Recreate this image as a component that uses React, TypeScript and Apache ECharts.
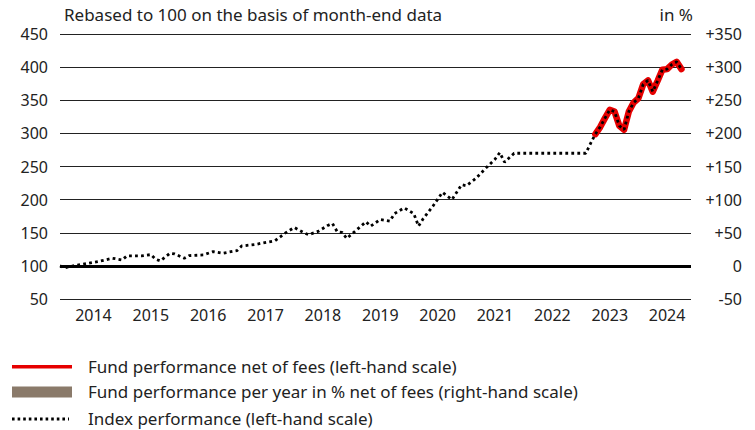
import React, { useEffect, useRef } from "react";
import * as echarts from "echarts";

const FONT = "Noto Sans";

// Monthly categories Dec 2013 .. Dec 2024
const months: string[] = ["2013-12"];
for (let y = 2014; y <= 2024; y++) {
  for (let m = 1; m <= 12; m++) months.push(`${y}-${m < 10 ? "0" + m : m}`);
}

const leftTicks = [50, 100, 150, 200, 250, 300, 350, 400, 450];
const rightTicks = [-50, 0, 50, 100, 150, 200, 250, 300, 350];

const indexMonths = [
  "2013-12", "2014-01", "2014-03", "2014-06", "2014-08", "2014-11",
  "2015-01", "2015-02", "2015-05", "2015-07", "2015-08", "2015-09", "2015-11", "2015-12",
  "2016-02", "2016-03", "2016-06", "2016-08", "2016-10",
  "2017-01", "2017-02", "2017-05", "2017-06", "2017-09", "2017-11",
  "2018-01", "2018-03", "2018-04", "2018-06", "2018-08", "2018-09", "2018-10", "2018-11", "2018-12",
  "2019-02", "2019-04", "2019-05", "2019-07", "2019-09", "2019-10", "2019-12",
  "2020-02", "2020-03", "2020-04", "2020-06", "2020-08", "2020-10", "2020-12",
  "2021-01", "2021-03", "2021-05", "2021-07", "2021-08", "2021-09", "2021-11",
  "2023-02", "2023-03", "2023-04", "2023-05", "2023-06", "2023-07", "2023-08", "2023-09",
  "2023-10", "2023-11", "2023-12", "2024-01", "2024-02", "2024-03", "2024-04", "2024-05",
  "2024-06", "2024-07", "2024-08", "2024-09", "2024-10",
];
const indexValues = [
  100, 97, 100.5, 104, 106.5, 111.5,
  109, 115, 115, 117, 110, 107.5, 119, 118,
  111.5, 115.5, 116.5, 121.5, 119,
  123, 130, 132.5, 134, 138, 149,
  158, 150, 147, 152, 161, 164, 151.5, 150.5, 141.5,
  154, 166.5, 160, 170, 167.5, 179, 187.5,
  179, 160, 171.5, 190, 211, 200, 222.5,
  221, 232, 247, 261, 271, 256.5, 270,
  270, 285, 299, 309.5, 323, 335.5, 333, 311.5,
  305.5, 333, 346.5, 353, 374, 380, 363, 379,
  396, 397, 404, 408, 397,
];

const fundMonths = [
  "2023-04", "2023-05", "2023-06", "2023-07", "2023-08", "2023-09",
  "2023-10", "2023-11", "2023-12", "2024-01", "2024-02", "2024-03", "2024-04", "2024-05",
  "2024-06", "2024-07", "2024-08", "2024-09", "2024-10",
];
const fundValues = [
  299, 309.5, 323, 335.5, 333, 311.5,
  305.5, 333, 346.5, 353, 374, 380, 363, 379,
  396, 397, 404, 408, 397,
];

const legendLabels = [
  "Fund performance net of fees (left-hand scale)",
  "Fund performance per year in % net of fees (right-hand scale)",
  "Index performance (left-hand scale)",
];
const titleText = "Rebased to 100 on the basis of month-end data";
const unitText = "in %";

export default function App() {
  const ref = useRef<HTMLDivElement>(null);
  useEffect(() => {
    if (!ref.current) return;
    const chart = echarts.init(ref.current, undefined, { renderer: "svg" });
    const legendText = (text: string, y: number) => ({
      type: "text",
      x: 88,
      y,
      style: { text, fontSize: 17, fill: "#222", fontFamily: FONT, verticalAlign: "middle" },
    });
    const option: any = {
      animation: false,
      textStyle: { fontFamily: FONT },
      grid: { left: 60, right: 64, top: 34, bottom: 131, containLabel: false },
      xAxis: {
        type: "category",
        data: months,
        boundaryGap: false,
        axisLine: { show: false },
        axisTick: { show: false },
        splitLine: { show: false },
        axisLabel: {
          interval: (_i: number, v: string) => v.endsWith("-07"),
          formatter: (v: string) => v.slice(0, 4),
          fontSize: 16,
          color: "#222",
          fontFamily: FONT,
          margin: 8,
        },
      },
      yAxis: [
        {
          type: "value",
          min: leftTicks[0],
          max: leftTicks[leftTicks.length - 1],
          interval: 50,
          position: "left",
          axisLine: { show: false },
          axisTick: { show: false },
          splitLine: { show: true, lineStyle: { color: "#222", width: 1 } },
          axisLabel: { fontSize: 16, color: "#222", margin: 12, fontFamily: FONT },
        },
        {
          type: "value",
          min: rightTicks[0],
          max: rightTicks[rightTicks.length - 1],
          interval: 50,
          position: "right",
          axisLine: { show: false },
          axisTick: { show: false },
          splitLine: { show: false },
          axisLabel: {
            fontSize: 16,
            color: "#222",
            align: "right",
            margin: 51,
            fontFamily: FONT,
            formatter: (v: number) => (v > 0 ? "+" + v : String(v)),
          },
        },
      ],
      series: [
        {
          type: "line",
          name: legendLabels[0],
          yAxisIndex: 0,
          data: fundMonths.map((m, i) => [m, fundValues[i]]),
          showSymbol: false,
          symbol: "none",
          lineStyle: { color: "#e60000", width: 6.5, cap: "round", join: "round" },
          z: 3,
        },
        {
          type: "line",
          name: legendLabels[2],
          yAxisIndex: 0,
          data: indexMonths.map((m, i) => [m, indexValues[i]]),
          showSymbol: false,
          symbol: "none",
          lineStyle: { color: "#000", width: 2.8, type: [2.8, 3.2], cap: "butt" },
          z: 4,
          markLine: {
            silent: true,
            symbol: "none",
            label: { show: false },
            lineStyle: { color: "#000", width: 3, type: "solid" },
            data: [{ yAxis: 100 }],
            z: 2,
          },
        },
      ],
      graphic: [
        {
          type: "text",
          left: 64,
          top: 6,
          style: { text: titleText, fontSize: 17, fill: "#222", fontFamily: FONT },
        },
        {
          type: "text",
          right: 62,
          top: 6,
          style: { text: unitText, fontSize: 17, fill: "#222", fontFamily: FONT },
        },
        { type: "rect", shape: { x: 12, y: 365, width: 60, height: 3.5 }, style: { fill: "#e60000" } },
        { type: "rect", shape: { x: 12, y: 386.5, width: 60, height: 11 }, style: { fill: "#8a7a6a" } },
        {
          type: "line",
          shape: { x1: 12, y1: 419, x2: 69, y2: 419 },
          style: { stroke: "#000", lineWidth: 3, lineDash: [2.6, 3] },
        },
        legendText(legendLabels[0], 366),
        legendText(legendLabels[1], 391.5),
        legendText(legendLabels[2], 418),
      ],
    };
    chart.setOption(option);
    return () => chart.dispose();
  }, []);
  return (
    <div
      ref={ref}
      style={{ position: "fixed", left: 0, top: 0, width: 755, height: 430, background: "#fff" }}
    />
  );
}
